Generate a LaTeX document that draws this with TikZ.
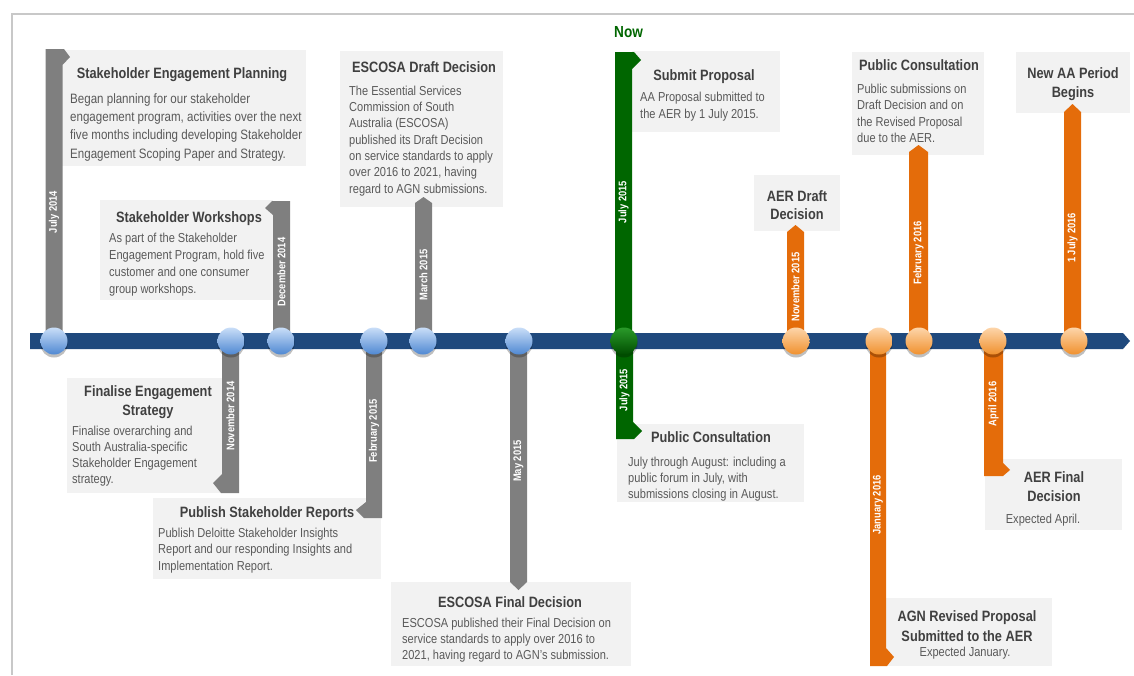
\documentclass[tikz,border=0pt]{standalone}
\usepackage{fontspec}
\setmainfont{Liberation Sans}[FakeStretch=0.85]
\usetikzlibrary{shadows}
\definecolor{barblue}{HTML}{1F497D}
\definecolor{stemgray}{HTML}{7F7F7F}
\definecolor{boxgray}{HTML}{F2F2F2}
\definecolor{nowgreen}{HTML}{006600}
\definecolor{stemorange}{HTML}{E46C0A}
\definecolor{titlegray}{HTML}{404040}
\definecolor{bodygray}{HTML}{595959}
\definecolor{framegray}{HTML}{C8C8C8}
\definecolor{bluetop}{HTML}{C9DEF8}
\definecolor{bluebot}{HTML}{4F88D2}
\definecolor{orangetop}{HTML}{FDD5AA}
\definecolor{orangebot}{HTML}{F0912E}
\definecolor{greentop}{HTML}{2A9A2A}
\definecolor{greenbot}{HTML}{004D00}
\begin{document}
% Multi-line nodes sit on the baseline of their last line.
\begin{tikzpicture}[x=1pt,y=-1pt,
  infobox/.style={fill=boxgray, inner sep=0, anchor=north west, draw=none},
  heading/.style={font=\fontsize{15}{#1}\selectfont\bfseries, text=titlegray, align=center, inner sep=0, anchor=base},
  heading/.default=19,
  bodytext/.style={font=\fontsize{13}{#1}\selectfont, text=bodygray, align=left, inner sep=0, anchor=base west},
  notetext/.style={font=\fontsize{13}{16}\selectfont, text=bodygray, inner sep=0, anchor=base},
  datelbl/.style={font=\fontsize{11}{13}\selectfont\bfseries, text=white, rotate=90, inner sep=0},
  dot/.style={circle, minimum size=27, inner sep=0,
    drop shadow={shadow xshift=0pt, shadow yshift=-3pt, opacity=0.25, fill=black}},
  bluedot/.style={dot, top color=bluetop, bottom color=bluebot},
  orangedot/.style={dot, top color=orangetop, bottom color=orangebot},
  greendot/.style={dot, top color=greentop, bottom color=greenbot},
]
\useasboundingbox (0,0) rectangle (1134,675);

% frame
\draw[framegray, line width=2.5] (12,675) -- (12,14) -- (1134,14);

% information boxes
\node[infobox, minimum width=244, minimum height=116] (b1) at (62,50) {};
\node[infobox, minimum width=173, minimum height=100] (b2) at (100,200) {};
\node[infobox, minimum width=163, minimum height=156] (b3) at (340,51) {};
\node[infobox, minimum width=148, minimum height=81] (b4) at (632,51) {};
\node[infobox, minimum width=86, minimum height=56] (b5) at (754,175) {};
\node[infobox, minimum width=132, minimum height=103] (b6) at (852,52) {};
\node[infobox, minimum width=114, minimum height=61] (b7) at (1016,52) {};
\node[infobox, minimum width=155, minimum height=115] (b8) at (67,378) {};
\node[infobox, minimum width=228, minimum height=81] (b9) at (153,498) {};
\node[infobox, minimum width=240, minimum height=84] (b10) at (391,582) {};
\node[infobox, minimum width=187, minimum height=78] (b11) at (617,424) {};
\node[infobox, minimum width=182, minimum height=68] (b12) at (870,598) {};
\node[infobox, minimum width=137, minimum height=71] (b13) at (985,459) {};

% headings
\node[heading] (t1) at (182,78) {Stakeholder Engagement Planning};
\node[heading] (t2) at (189,222) {Stakeholder Workshops};
\node[heading] (t3) at (424,72) {ESCOSA Draft Decision};
\node[heading] (t4) at (704,80) {Submit Proposal};
\node[heading=18] (t5) at (797,219) {AER Draft\\Decision};
\node[heading] (t6) at (919,70) {Public Consultation};
\node[heading=19] (t7) at (1073,97) {New AA Period\\Begins};
\node[heading=19] (t8) at (148,415) {Finalise Engagement\\Strategy};
\node[heading] (t9) at (267,517) {Publish Stakeholder Reports};
\node[heading] (t10) at (510,607) {ESCOSA Final Decision};
\node[heading] (t11) at (711,442) {Public Consultation};
\node[heading=20] (t12) at (967,641) {AGN Revised Proposal\\Submitted to the AER};
\node[heading=19] (t13) at (1054,501) {AER Final\\Decision};

% descriptions
\node[bodytext=18.3, font=\fontsize{13.6}{18.3}\selectfont] (d1) at (70,158) {Began planning for our stakeholder\\engagement program, activities over the next\\five months including developing Stakeholder\\Engagement Scoping Paper and Strategy.};
\node[bodytext=16.7] (d2) at (109,293) {As part of the Stakeholder\\Engagement Program, hold five\\customer and one consumer\\group workshops.};
\node[bodytext=16.3] (d3) at (349,193) {The Essential Services\\Commission of South\\Australia (ESCOSA)\\published its Draft Decision\\on service standards to apply\\over 2016 to 2021, having\\regard to AGN submissions.};
\node[bodytext=16.2] (d4) at (640,118) {AA Proposal submitted to\\the AER by 1 July 2015.};
\node[bodytext=16.5] (d6) at (857,142.5) {Public submissions on\\Draft Decision and on\\the Revised Proposal\\due to the AER.};
\node[bodytext=16] (d8) at (72,483) {Finalise overarching and\\South Australia-specific\\Stakeholder Engagement\\strategy.};
\node[bodytext=16.5] (d9) at (158,570) {Publish Deloitte Stakeholder Insights\\Report and our responding Insights and\\Implementation Report.};
\node[bodytext=16] (d10) at (402,659) {ESCOSA published their Final Decision on\\service standards to apply over 2016 to\\2021, having regard to AGN’s submission.};
\node[bodytext=16] (d11) at (628,498) {July through August: including a\\public forum in July, with\\submissions closing in August.};
\node[notetext] (d12) at (965,656) {Expected January.};
\node[notetext] (d13) at (1043,523) {Expected April.};

% "Now" marker
\node[font=\fontsize{16}{19}\selectfont\bfseries, text=nowgreen, inner sep=0, anchor=base west] (now) at (614,37) {Now};

% stems from the timeline to the boxes
\fill[stemgray] (45.5,341) -- (45.5,49) -- (64,49) -- (70,57) -- (62.5,65) -- (62.5,341) -- cycle;
\fill[stemgray] (222,341) -- (222,474) -- (213,483) -- (221,493) -- (239,493) -- (239,341) -- cycle;
\fill[stemgray] (273,341) -- (273,215) -- (265,208) -- (272,201) -- (290,201) -- (290,341) -- cycle;
\fill[stemgray] (366,341) -- (366,502) -- (356,510) -- (364,518) -- (382,518) -- (382,341) -- cycle;
\fill[stemgray] (415,341) -- (415,203) -- (423.5,197) -- (432,203) -- (432,341) -- cycle;
\fill[stemgray] (510,341) -- (510,582) -- (518.5,590) -- (527,582) -- (527,341) -- cycle;
\fill[nowgreen] (615,341) -- (615,52) -- (634,52) -- (641,60) -- (632,69) -- (632,341) -- cycle;
\fill[nowgreen] (616,341) -- (616,439) -- (634,439) -- (642,431) -- (633,422) -- (633,341) -- cycle;
\fill[stemorange] (787,341) -- (787,232) -- (795.5,225) -- (804,232) -- (804,341) -- cycle;
\fill[stemorange] (870,341) -- (870,666) -- (887,666) -- (894,657) -- (886,648) -- (886,341) -- cycle;
\fill[stemorange] (909,341) -- (909,152) -- (918.5,145) -- (928,152) -- (928,341) -- cycle;
\fill[stemorange] (984,341) -- (984,476) -- (1003,476) -- (1010,470) -- (1003,463) -- (1003,341) -- cycle;
\fill[stemorange] (1064,341) -- (1064,112) -- (1072.5,104) -- (1081,112) -- (1081,341) -- cycle;

% dates along the stems
\node[datelbl] (l1) at (54,212) {July 2014};
\node[datelbl] (l2) at (230.5,416) {November 2014};
\node[datelbl] (l3) at (281.5,272) {December 2014};
\node[datelbl] (l4) at (374,431) {February 2015};
\node[datelbl] (l5) at (423.5,275) {March 2015};
\node[datelbl] (l6) at (518.5,461) {May 2015};
\node[datelbl] (l7) at (623.5,202) {July 2015};
\node[datelbl] (l8) at (624.5,390) {July 2015};
\node[datelbl] (l9) at (795.5,287) {November 2015};
\node[datelbl] (l10) at (878,505) {January 2016};
\node[datelbl] (l11) at (918.5,253) {February 2016};
\node[datelbl] (l12) at (993.5,404) {April 2016};
\node[datelbl] (l13) at (1072.5,238) {1 July 2016};

% timeline bar
\fill[barblue] (30,333) -- (1123,333) -- (1130,341) -- (1123,349) -- (30,349) -- cycle;

% milestones
\node[bluedot] (c1) at (54,341) {};
\node[bluedot] (c2) at (231,341) {};
\node[bluedot] (c3) at (281,341) {};
\node[bluedot] (c4) at (374,341) {};
\node[bluedot] (c5) at (423,341) {};
\node[bluedot] (c6) at (519,341) {};
\node[greendot] (c7) at (624,341) {};
\node[orangedot] (c8) at (796,341) {};
\node[orangedot] (c9) at (879,341) {};
\node[orangedot] (c10) at (919,341) {};
\node[orangedot] (c11) at (993,341) {};
\node[orangedot] (c12) at (1074,341) {};
\end{tikzpicture}
\end{document}
